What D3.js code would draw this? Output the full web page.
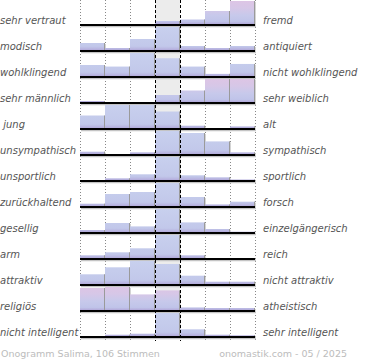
<!DOCTYPE html>
<html>
<head>
<meta charset="utf-8">
<script src="https://cdn.jsdelivr.net/npm/d3@7"></script>
<style>
    html, body { margin: 0; padding: 0; background: #fff; }
    svg { display: block; }
    text { font-family: 'DejaVu Sans', sans-serif; white-space: pre; }
</style>
</head>
<body>
<div id="chart"></div>
<script>
const leftLabels = ['sehr vertraut', 'modisch', 'wohlklingend', 'sehr männlich', ' jung', 'unsympathisch',
    'unsportlich', 'zurückhaltend', 'gesellig', 'arm', 'attraktiv', 'religiös', 'nicht intelligent'];
const rightLabels = ['fremd', 'antiquiert', 'nicht wohlklingend', 'sehr weiblich', 'alt', 'sympathisch',
    'sportlich', 'forsch', 'einzelgängerisch', 'reich', 'nicht attraktiv', 'atheistisch', 'sehr intelligent'];
const scalePoints = [1, 2, 3, 4, 5, 6, 7];

// relative answer shares per row, one value per scale point
const ratings = [
    [1, 0, 0, 4, 5.5, 14, 24],
    [8, 3, 12, 24, 5, 3, 5],
    [11.5, 10, 23, 18, 10, 3, 12.5],
    [2, 0, 0, 8, 12.5, 24, 24],
    [13.5, 24, 24, 17.5, 3.3, 0, 2.6],
    [3.3, 1, 2.7, 24, 22, 13.6, 2.7],
    [0.5, 2.7, 6.7, 24, 5.7, 3.7, 1.5],
    [3.3, 13, 15, 24, 10, 2.6, 5.3],
    [3, 10, 6.6, 24, 10.6, 4, 1.3],
    [3.7, 6.7, 10.7, 24, 3.7, 0.7, 0.7],
    [10.7, 17.7, 24, 21, 9.3, 3.3, 3.3],
    [23, 24, 16.6, 20.6, 3.6, 3, 3],
    [0.7, 2.3, 3.3, 24, 7.7, 2.3, 1.7]
];
// rows with a marked tendency
const markedRows = ['sehr vertraut', 'sehr männlich', 'religiös'];

const footerLeft = 'Onogramm Salima, 106 Stimmen';
const footerRight = 'onomastik.com - 05 / 2025';

const width = 370;
const height = 360;

const svg = d3.select('#chart').append('svg')
    .attr('width', width)
    .attr('height', height);

const x = d3.scaleBand().domain(scalePoints).range([80, 255]).padding(0);
const y = d3.scaleBand().domain(leftLabels).range([-1, 337]).padding(0);
const barMax = 24;

const defs = svg.append('defs');

// gradients live in each row's local coordinates (baseline at y = 0)
const gradients = {
    marked: [[0, '#ddc5e5'], [0.3, '#d6c7e7'], [0.6, '#c7c9eb'], [0.85, '#c0c4e9'], [0.94, '#b5aedd'], [1, '#a393cc']],
    plain: [[0, '#c8d0ee'], [0.8, '#c2c8ea'], [0.93, '#b7b2df'], [1, '#a393cc']]
};

Object.entries(gradients).forEach(([name, stops]) => {
    defs.append('linearGradient')
        .attr('id', 'grad-' + name)
        .attr('gradientUnits', 'userSpaceOnUse')
        .attr('x1', 0).attr('x2', 0)
        .attr('y1', -barMax).attr('y2', 0)
        .selectAll('stop').data(stops).join('stop')
        .attr('offset', (d) => d[0])
        .attr('stop-color', (d) => d[1]);
});

// neutral column background
svg.append('rect')
    .attr('x', x(4)).attr('y', 0)
    .attr('width', x.bandwidth()).attr('height', 337)
    .attr('fill', '#ececec');

// dotted grid lines
const gridX = [x(1), x(2), x(3), x(6), x(7), x(7) + x.bandwidth()];
svg.append('g').selectAll('line').data(gridX).join('line')
    .attr('x1', (d) => d + 0.5).attr('x2', (d) => d + 0.5)
    .attr('y1', 0).attr('y2', 341)
    .attr('stroke', '#888')
    .attr('stroke-dasharray', '1,2');

const rows = svg.append('g').selectAll('g').data(leftLabels).join('g')
    .attr('transform', (d) => `translate(0,${y(d) + y.bandwidth()})`);

rows.each(function (label, i) {
    const g = d3.select(this);
    const values = ratings[i];
    const h = d3.scaleLinear().domain([0, d3.max(values)]).range([0, barMax]);
    const fill = markedRows.includes(label) ? 'url(#grad-marked)' : 'url(#grad-plain)';

    const bars = values.map((v, j) => ({ point: scalePoints[j], value: v }));

    // soft shadow on the right of the bars
    g.selectAll('rect.shadow').data(bars.filter((d) => d.value > 0)).join('rect')
        .attr('class', 'shadow')
        .attr('x', (d) => x(d.point) + 1)
        .attr('y', (d) => -h(d.value) + 1)
        .attr('width', x.bandwidth())
        .attr('height', (d) => h(d.value))
        .attr('fill', '#d4d4d4');

    g.selectAll('rect.bar').data(bars).join('rect')
        .attr('class', 'bar')
        .attr('x', (d) => x(d.point))
        .attr('y', (d) => -h(d.value))
        .attr('width', x.bandwidth())
        .attr('height', (d) => h(d.value))
        .attr('fill', fill);

    g.selectAll('line.edge').data(bars.filter((d) => d.value > 0)).join('line')
        .attr('class', 'edge')
        .attr('x1', (d) => x(d.point) + x.bandwidth() - 0.5)
        .attr('x2', (d) => x(d.point) + x.bandwidth() - 0.5)
        .attr('y1', (d) => -h(d.value))
        .attr('y2', 0)
        .attr('stroke', '#9a9a9a');

    g.append('line')
        .attr('x1', 81).attr('x2', 256)
        .attr('y1', 1.5).attr('y2', 1.5)
        .attr('stroke', '#c4c4c4')
        .attr('stroke-width', 1.5);

    g.append('line')
        .attr('x1', 80).attr('x2', 255)
        .attr('y1', 0).attr('y2', 0)
        .attr('stroke', '#000')
        .attr('stroke-width', 2);

    g.append('text')
        .attr('x', 0).attr('y', -1)
        .attr('font-size', 10)
        .attr('font-style', 'italic')
        .attr('fill', '#555')
        .text(label);

    g.append('text')
        .attr('x', 263).attr('y', -1)
        .attr('font-size', 10)
        .attr('font-style', 'italic')
        .attr('fill', '#555')
        .text(rightLabels[i]);
});

// dashed lines around the neutral column
svg.append('g').selectAll('line').data([x(4), x(5)]).join('line')
    .attr('x1', (d) => d + 0.5).attr('x2', (d) => d + 0.5)
    .attr('y1', 0).attr('y2', 341)
    .attr('stroke', '#000')
    .attr('stroke-dasharray', '3,2');

svg.append('text')
    .attr('x', 1).attr('y', 357)
    .attr('font-size', 9.5)
    .attr('fill', '#bcbcbc')
    .text(footerLeft);

svg.append('text')
    .attr('x', 347).attr('y', 357)
    .attr('text-anchor', 'end')
    .attr('font-size', 9.5)
    .attr('fill', '#bcbcbc')
    .text(footerRight);
</script>
</body>
</html>
